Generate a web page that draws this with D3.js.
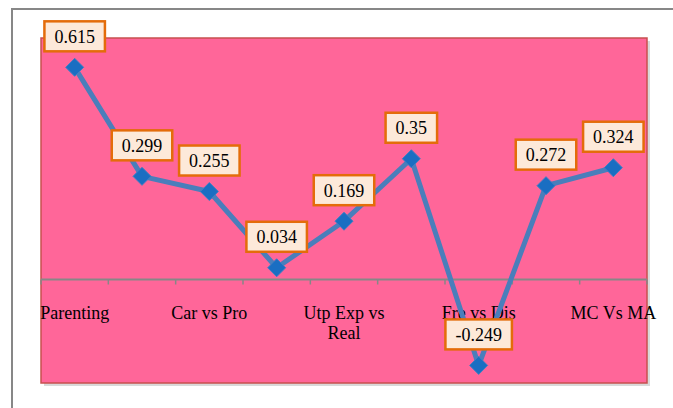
<!DOCTYPE html>
<html>
<head>
<meta charset="utf-8">
<script src="https://cdn.jsdelivr.net/npm/d3@7"></script>
<style>
  body { margin: 0; background: #fff; }
</style>
</head>
<body>
<div id="chart"></div>
<script>
// categories (every other one is not labelled on the axis in the original)
const categories = ["Parenting", "", "Car vs Pro", "", "Utp Exp vs Real", "", "Fre vs Dis", "", "MC Vs MA"]
const values = [0.615, 0.299, 0.255, 0.034, 0.169, 0.35, -0.249, 0.272, 0.324]
const yDomain = [-0.3, 0.7]

const width = 673, height = 408
const plot = {left: 41, top: 38, right: 647, bottom: 383}
const serif = "'Liberation Serif', 'Times New Roman', serif"

const svg = d3.select("#chart").append("svg")
  .attr("width", width)
  .attr("height", height)

// outer chart frame
svg.append("rect")
  .attr("x", 12).attr("y", 9)
  .attr("width", width + 10).attr("height", height + 10)
  .attr("fill", "#fff")
  .attr("stroke", "#878787")
  .attr("stroke-width", 2)

// shadow of plot area
svg.append("rect")
  .attr("x", plot.left + 3).attr("y", plot.top + 3)
  .attr("width", plot.right - plot.left).attr("height", plot.bottom - plot.top)
  .attr("fill", "#d9d9d9")

svg.append("rect")
  .attr("x", plot.left).attr("y", plot.top)
  .attr("width", plot.right - plot.left).attr("height", plot.bottom - plot.top)
  .attr("fill", "#ff6699")
  .attr("stroke", "#c8504f")
  .attr("stroke-width", 1.5)

const x = d3.scaleBand()
  .domain(d3.range(categories.length))
  .range([plot.left, plot.right])

const y = d3.scaleLinear()
  .domain(yDomain)
  .range([plot.bottom, plot.top])

// category axis at zero
const axisG = svg.append("g")
  .attr("transform", `translate(0,${y(0)})`)
axisG.append("line")
  .attr("x1", plot.left).attr("x2", plot.right)
  .attr("stroke", "#878787").attr("stroke-width", 2)
const tickPos = d3.range(categories.length + 1).map(i => plot.left + i * x.bandwidth())
axisG.selectAll(".tk").data(tickPos).join("line")
  .attr("class", "tk")
  .attr("x1", d => d).attr("x2", d => d)
  .attr("y1", 0).attr("y2", 5)
  .attr("stroke", "#878787").attr("stroke-width", 1.5)

// labels, wrapped like Excel does
const labels = svg.append("g")
categories.forEach((c, i) => {
  if (!c) return
  const t = labels.append("text")
    .attr("x", x(i) + x.bandwidth() / 2)
    .attr("y", y(0) + 39)
    .attr("text-anchor", "middle")
    .attr("font-family", serif)
    .attr("font-size", 18)
    .attr("fill", "#000")
  const words = c.split(" ")
  let line = []
  let tspan = t.append("tspan").attr("x", x(i) + x.bandwidth() / 2).attr("dy", 0)
  words.forEach(w => {
    line.push(w)
    tspan.text(line.join(" "))
    if (tspan.node().getComputedTextLength() > 100 && line.length > 1) {
      line.pop()
      tspan.text(line.join(" "))
      line = [w]
      tspan = t.append("tspan").attr("x", x(i) + x.bandwidth() / 2).attr("dy", 20).text(w)
    }
  })
})

// series line
const cx = i => x(i) + x.bandwidth() / 2
svg.append("path")
  .datum(values)
  .attr("fill", "none")
  .attr("stroke", "#4a7ebb")
  .attr("stroke-width", 5)
  .attr("stroke-linejoin", "round")
  .attr("d", d3.line().x((d, i) => cx(i)).y(d => y(d)))

// diamond markers
svg.selectAll(".mk").data(values).join("path")
  .attr("class", "mk")
  .attr("transform", (d, i) => `translate(${cx(i)},${y(d)})`)
  .attr("d", "M0,-9L9,0L0,9L-9,0Z")
  .attr("fill", "#1a6ec2")
  .attr("stroke", "#3f7fc4")
  .attr("stroke-width", 1)

// data labels
const dl = svg.selectAll(".dl").data(values).join("g")
  .attr("class", "dl")
  .attr("transform", (d, i) => `translate(${cx(i)},${y(d) - 31})`)
dl.append("text")
  .attr("text-anchor", "middle")
  .attr("dy", "0.35em")
  .attr("font-family", serif)
  .attr("font-size", 18)
  .attr("fill", "#000")
  .text(d => String(d))
dl.each(function() {
  const g = d3.select(this)
  const w = g.select("text").node().getComputedTextLength() + 20
  g.insert("rect", "text")
    .attr("x", -w / 2).attr("y", -15)
    .attr("width", w).attr("height", 30)
    .attr("fill", "#fde9d9")
    .attr("stroke", "#e46c0a")
    .attr("stroke-width", 2.5)
})
</script>
</body>
</html>
